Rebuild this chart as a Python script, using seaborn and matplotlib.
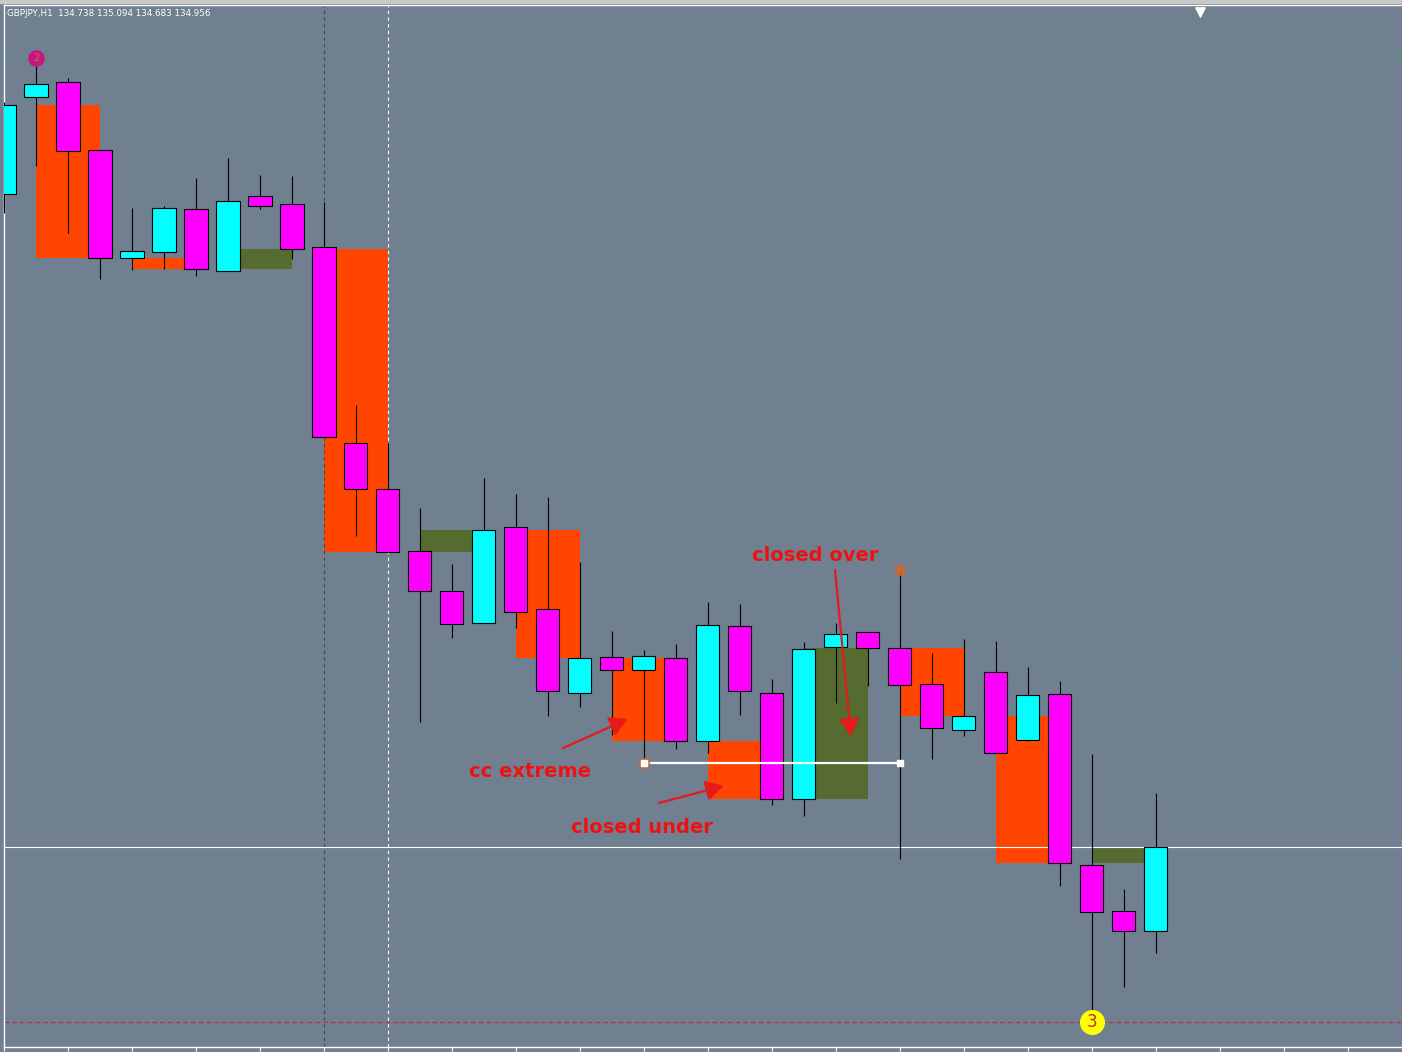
import matplotlib
matplotlib.use("Agg")
import matplotlib.pyplot as plt
import seaborn as sns
import pandas as pd

# GBPJPY H1 bars, oldest first (x = bar number)
opens = [136.633, 136.882, 136.920, 136.746, 136.468, 136.484, 136.594, 136.435, 136.628, 136.607,
         136.497, 135.993, 135.875, 135.716, 135.613, 135.531, 135.777, 135.567, 135.351, 135.443,
         135.410, 135.441, 135.227, 135.523, 135.351, 135.078, 135.469, 135.507, 135.466, 135.374,
         135.256, 135.405, 135.230, 135.348, 134.909, 134.791, 134.738]
highs = [136.869, 136.982, 136.931, 136.746, 136.597, 136.602, 136.674, 136.725, 136.681, 136.679,
         136.612, 136.091, 135.993, 135.826, 135.682, 135.903, 135.862, 135.854, 135.687, 135.510,
         135.461, 135.477, 135.585, 135.579, 135.387, 135.482, 135.531, 135.507, 135.667, 135.453,
         135.489, 135.484, 135.418, 135.382, 135.194, 134.847, 135.094]
lows = [136.584, 136.705, 136.532, 136.414, 136.437, 136.440, 136.422, 136.435, 136.594, 136.466,
        136.008, 135.754, 135.713, 135.276, 135.492, 135.531, 135.518, 135.292, 135.315, 135.243,
        135.171, 135.207, 135.197, 135.294, 135.063, 135.035, 135.325, 135.369, 134.924, 135.181,
        135.240, 135.197, 135.227, 134.855, 134.506, 134.595, 134.683]
closes = [136.861, 136.915, 136.743, 136.468, 136.486, 136.597, 136.440, 136.615, 136.602, 136.491,
          136.008, 135.875, 135.713, 135.613, 135.528, 135.769, 135.559, 135.356, 135.441, 135.410,
          135.446, 135.227, 135.525, 135.356, 135.078, 135.464, 135.502, 135.466, 135.371, 135.261,
          135.292, 135.197, 135.346, 134.914, 134.788, 134.739, 134.956]

# boxes: first bar (each box is 2 bars wide), top, bottom, kind
zone_start = [1, 4, 7, 10, 13, 16, 19, 22, 25, 28, 31, 34]
zone_top = [136.861, 136.468, 136.491, 136.491, 135.769, 135.769, 135.441, 135.227, 135.466, 135.466, 135.292, 134.955]
zone_bottom = [136.468, 136.440, 136.440, 135.713, 135.713, 135.441, 135.227, 135.078, 135.078, 135.292, 134.914, 134.914]
zone_kind = ["sell", "sell", "buy", "sell", "buy", "sell", "sell", "sell", "buy", "sell", "sell", "buy"]

# levels
top_level = 136.982
mid_level = 135.418
mid_level_from = 32
low_level = 134.506
cc_from, cc_to, cc_price = 20, 28, 135.171
swing_bar, swing_price = 28, 135.667
sep_bars = [10, 12]

# annotations: text, x, y
notes = ["closed over", "cc extreme", "closed under"]
note_x = [25.34, 16.44, 19.94]
note_y = [135.703, 135.150, 135.004]
arrow_from = [(17.47, 135.209), (20.47, 135.068), (25.97, 135.667)]
arrow_to = [(19.5, 135.284), (22.5, 135.112), (26.47, 135.238)]

y_low, y_high = 134.441, 137.118
x_max = 43.69
shift_pos = 37.375

bg = "#708090"
sns.set_theme(style="dark", rc={"axes.facecolor": bg, "figure.facecolor": bg,
                                "axes.edgecolor": "white"})

df = pd.DataFrame({"bar": range(len(opens)), "open": opens, "high": highs,
                   "low": lows, "close": closes})
df["bull"] = df["close"] >= df["open"]
df["body_lo"] = df[["open", "close"]].min(axis=1)
df["body_h"] = (df["close"] - df["open"]).abs()

fig = plt.figure(figsize=(14.02, 10.52), dpi=100)
ax = fig.add_axes([4 / 1402, 5 / 1052, 1398 / 1402, 1042 / 1052])

# boxes
zcol = {"sell": "#FF4500", "buy": "#556B2F"}
ax.bar(zone_start, [t - b for t, b in zip(zone_top, zone_bottom)], bottom=zone_bottom,
       width=2, align="edge", color=[zcol[k] for k in zone_kind], linewidth=0, zorder=1)

# lines
ax.axhline(top_level, color="#3CA05A", lw=0.8, ls=(0, (4, 3)), zorder=2)
ax.hlines(mid_level, mid_level_from, x_max, color="#3CA05A", lw=0.8, ls=(0, (4, 3)), zorder=2)
ax.axhline(low_level, color="#C0283A", lw=0.8, ls=(0, (4, 3)), zorder=2)
ax.axvline(sep_bars[0], color="#2F4F4F", lw=0.8, ls=(0, (3, 3)), zorder=2)
ax.axvline(sep_bars[1], color="white", lw=0.8, ls=(0, (3, 3)), zorder=2)
ax.axhline(closes[-1], color="white", lw=0.8, zorder=2)

# candles
ax.vlines(df["bar"], df["low"], df["high"], color="black", lw=0.8, zorder=3)
ax.bar(df["bar"], df["body_h"], bottom=df["body_lo"], width=0.72,
       color=["#00FFFF" if b else "#FF00FF" for b in df["bull"]],
       edgecolor="black", linewidth=0.8, zorder=4)

# cc extreme line and markers
ax.plot([cc_from, cc_to], [cc_price, cc_price], color="white", lw=1.6, zorder=5)
marks = pd.DataFrame({"x": [cc_from, swing_bar], "y": [cc_price, swing_price]})
sns.scatterplot(data=marks, x="x", y="y", ax=ax, s=70, color="#CD6A2A", alpha=0.85,
                linewidth=0, zorder=5, legend=False)
ax.plot([cc_from, cc_to], [cc_price, cc_price], ls="none", marker="s", ms=4,
        color="white", zorder=6)

# numbered swing points
ax.scatter([1], [top_level], s=120, color="#C0187F", zorder=6)
ax.text(1, top_level, "2", color="#E0603A", fontsize=7, ha="center", va="center", zorder=7)
ax.scatter([34], [low_level], s=290, color="#FFFF00", zorder=6)
ax.text(34, low_level, "3", color="#B8322A", fontsize=12, ha="center", va="center", zorder=7)

# annotations
for t, x, y in zip(notes, note_x, note_y):
    ax.text(x, y, t, color="#EE1111", fontsize=14, fontweight="bold",
            ha="center", va="center", zorder=8)
for a, b in zip(arrow_from, arrow_to):
    ax.annotate("", xy=b, xytext=a, zorder=8,
                arrowprops=dict(arrowstyle="-|>,head_length=0.55,head_width=0.3",
                                color="#E51A1A", lw=1.6, mutation_scale=20,
                                shrinkA=0, shrinkB=0))

# chart shift marker
ax.scatter([shift_pos], [0.993], marker="v", s=45, color="white",
           transform=ax.get_xaxis_transform(), zorder=9, clip_on=False)

ax.set_xlim(0, x_max)
ax.set_ylim(y_low, y_high)
ax.set_xticks(range(0, 44, 2))
ax.set_xticklabels([])
ax.set_yticks([])
ax.tick_params(axis="x", colors="white", direction="out", length=3, width=0.8, bottom=True)
ax.set_xlabel("")
ax.set_ylabel("")
ax.grid(False)
for side in ["left", "bottom", "top"]:
    ax.spines[side].set_color("white")
    ax.spines[side].set_linewidth(1)
ax.spines["right"].set_visible(False)

# window strip and header
fig.add_artist(plt.Rectangle((0, 1 - 3 / 1052), 1, 3 / 1052, transform=fig.transFigure,
                             color="#C8C8C8", zorder=10))
fig.text(7 / 1402, 1 - 14 / 1052,
         f"GBPJPY,H1  {opens[-1]:.3f} {highs[-1]:.3f} {lows[-1]:.3f} {closes[-1]:.3f}",
         color="white", fontsize=6.3, ha="left", va="center")

plt.savefig("out.png", dpi=100)
